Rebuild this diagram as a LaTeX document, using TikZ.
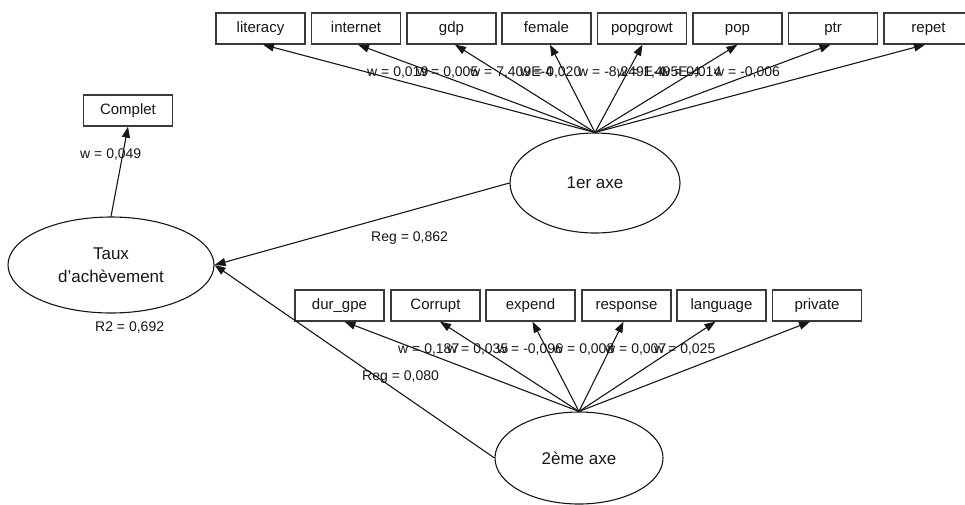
\documentclass[tikz,border=0pt]{standalone}
\usepackage{fontspec}
\setmainfont{Liberation Sans}
\usetikzlibrary{arrows.meta,shapes.geometric}
\definecolor{ink}{HTML}{161616}
\definecolor{boxline}{HTML}{3A3A3A}
\begin{document}
\begin{tikzpicture}[x=1pt,y=-1pt,
  box/.style={draw=boxline,line width=1.3pt,minimum width=89pt,minimum height=31pt,
    inner sep=0pt,text height=10.5pt,text depth=3pt,
    font=\fontsize{15}{18}\selectfont,text=ink},
  latent/.style={draw=ink,line width=1.1pt,ellipse,inner sep=0pt,
    font=\fontsize{17}{23}\selectfont,text=ink,align=center},
  wlabel/.style={anchor=west,inner sep=0pt,font=\fontsize{14}{16}\selectfont,text=ink},
  arr/.style={draw=ink,line width=1.1pt,-{Triangle[length=11pt,width=8pt]}}
]
\clip (0,0) rectangle (965,504);

% latent variables
\node[latent,minimum width=206pt,minimum height=96pt] (taux) at (111,265) {Taux\\d'achèvement};
\node[latent,minimum width=170pt,minimum height=100pt] (axe1) at (595,183) {1er axe};
\node[latent,minimum width=168pt,minimum height=92pt] (axe2) at (579,458) {2ème axe};

% indicator of the target construct
\node[box] (complet) at (128,110.5) {Complet};

% indicators of the first axis
\node[box] (literacy) at (260.5,28.5) {literacy};
\node[box] (internet) at (356,28.5) {internet};
\node[box] (gdp) at (451.5,28.5) {gdp};
\node[box] (female) at (546.5,28.5) {female};
\node[box] (popgrowt) at (642,28.5) {popgrowt};
\node[box] (pop) at (737.5,28.5) {pop};
\node[box] (ptr) at (833,28.5) {ptr};
\node[box] (repet) at (928.5,28.5) {repet};

% indicators of the second axis
\node[box] (durgpe) at (339.5,305.5) {dur\_gpe};
\node[box] (corrupt) at (435.5,305.5) {Corrupt};
\node[box] (expend) at (530.5,305.5) {expend};
\node[box] (response) at (626.5,305.5) {response};
\node[box] (language) at (721.5,305.5) {language};
\node[box] (private) at (817,305.5) {private};

% outer weights, first axis
\draw[arr] (axe1.north) -- ([xshift=2.5pt]literacy.south);
\draw[arr] (axe1.north) -- ([xshift=2pt]internet.south);
\draw[arr] (axe1.north) -- ([xshift=3.5pt]gdp.south);
\draw[arr] (axe1.north) -- ([xshift=3.5pt]female.south);
\draw[arr] (axe1.north) -- ([xshift=0.5pt]popgrowt.south);
\draw[arr] (axe1.north) -- (pop.south);
\draw[arr] (axe1.north) -- ([xshift=-2.5pt]ptr.south);
\draw[arr] (axe1.north) -- ([xshift=-3.5pt]repet.south);

% outer weights, second axis
\draw[arr] (axe2.north) -- ([xshift=5pt]durgpe.south);
\draw[arr] (axe2.north) -- ([xshift=4.5pt]corrupt.south);
\draw[arr] (axe2.north) -- ([xshift=2pt]expend.south);
\draw[arr] (axe2.north) -- ([xshift=-3pt]response.south);
\draw[arr] (axe2.north) -- ([xshift=-6pt]language.south);
\draw[arr] (axe2.north) -- ([xshift=-7pt]private.south);

% target construct and structural paths
\draw[arr] (taux.north) -- (complet.south);
\draw[arr] (axe1.west) -- (taux.east);
\draw[arr] (axe2.west) -- (taux.east);

% weight labels, first axis
\node[wlabel] (w11) at (367,73) {w = 0,019};
\node[wlabel] (w12) at (417,73) {w = 0,005};
\node[wlabel] (w13) at (470,73) {w = 7,409E-4};
\node[wlabel] (w14) at (520,73) {w = 0,020};
\node[wlabel] (w15) at (578,73) {w = -8,249E-4};
\node[wlabel] (w16) at (617,73) {w = 1,495E-4};
\node[wlabel] (w17) at (660,73) {w = 0,014};
\node[wlabel] (w18) at (714,73) {w = -0,006};

% weight labels, second axis
\node[wlabel] (w21) at (398,349) {w = 0,187};
\node[wlabel] (w22) at (447,349) {w = 0,035};
\node[wlabel] (w23) at (497,349) {w = -0,096};
\node[wlabel] (w24) at (553,349) {w = 0,008};
\node[wlabel] (w25) at (605,349) {w = 0,007};
\node[wlabel] (w26) at (654,349) {w = 0,025};

% remaining path labels
\node[wlabel] (wcomplet) at (80,155) {w = 0,049};
\node[wlabel] (reg1) at (371,238) {Reg = 0,862};
\node[wlabel] (reg2) at (362,377) {Reg = 0,080};
\node[wlabel] (rsq) at (95,327) {R2 = 0,692};
\end{tikzpicture}
\end{document}
